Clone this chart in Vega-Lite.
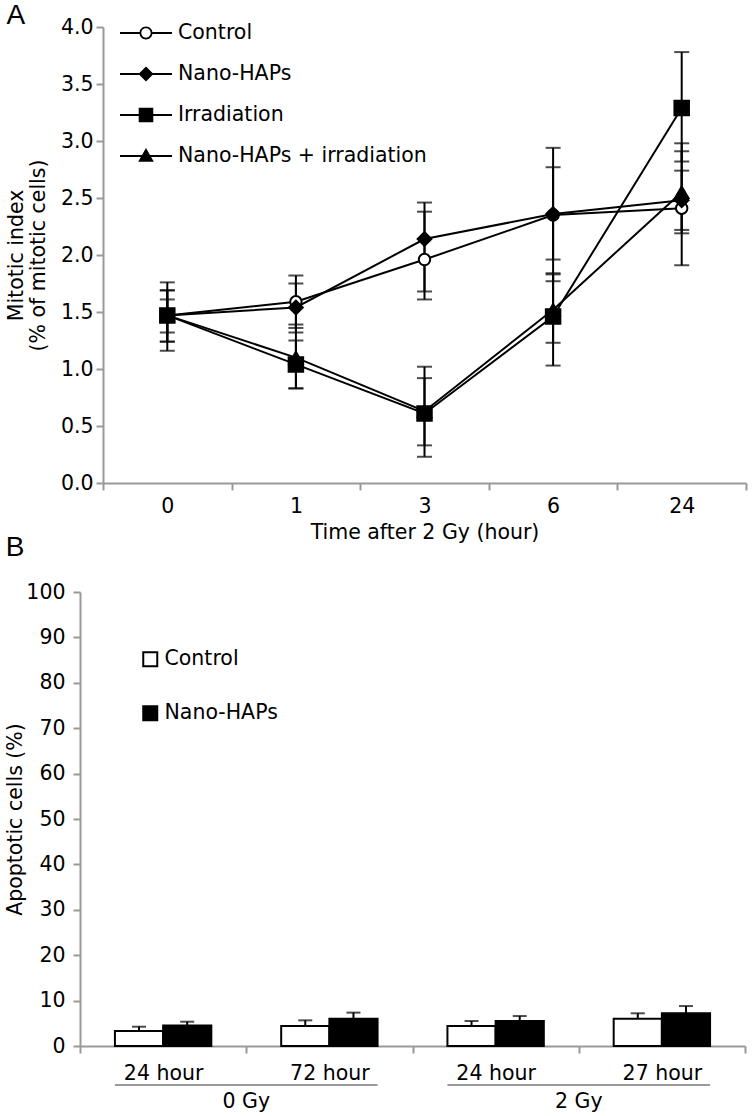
{
  "$schema": "https://vega.github.io/schema/vega-lite/v6.json",
  "background": "white",
  "padding": {"left": 5, "top": 2, "right": 5, "bottom": 0},
  "spacing": -9,
  "datasets": {
    "mitotic": [
      {"time": 0, "series": "Control", "mean": 1.47, "lo": 1.16, "hi": 1.76},
      {"time": 0, "series": "Nano-HAPs", "mean": 1.47, "lo": 1.24, "hi": 1.69},
      {"time": 0, "series": "Nano-HAPs + irradiation", "mean": 1.47, "lo": 1.24, "hi": 1.69},
      {"time": 0, "series": "Irradiation", "mean": 1.47, "lo": 1.32, "hi": 1.61},
      {"time": 1, "series": "Control", "mean": 1.59, "lo": 1.36, "hi": 1.82},
      {"time": 1, "series": "Nano-HAPs", "mean": 1.54, "lo": 1.32, "hi": 1.75},
      {"time": 1, "series": "Nano-HAPs + irradiation", "mean": 1.10, "lo": 0.83, "hi": 1.39},
      {"time": 1, "series": "Irradiation", "mean": 1.04, "lo": 0.83, "hi": 1.25},
      {"time": 3, "series": "Control", "mean": 1.96, "lo": 1.61, "hi": 2.38},
      {"time": 3, "series": "Nano-HAPs", "mean": 2.14, "lo": 1.68, "hi": 2.46},
      {"time": 3, "series": "Nano-HAPs + irradiation", "mean": 0.63, "lo": 0.23, "hi": 1.02},
      {"time": 3, "series": "Irradiation", "mean": 0.61, "lo": 0.33, "hi": 0.92},
      {"time": 6, "series": "Control", "mean": 2.35, "lo": 1.96, "hi": 2.77},
      {"time": 6, "series": "Nano-HAPs", "mean": 2.36, "lo": 1.77, "hi": 2.94},
      {"time": 6, "series": "Nano-HAPs + irradiation", "mean": 1.52, "lo": 1.23, "hi": 1.83},
      {"time": 6, "series": "Irradiation", "mean": 1.46, "lo": 1.03, "hi": 1.84},
      {"time": 24, "series": "Control", "mean": 2.41, "lo": 1.91, "hi": 2.91},
      {"time": 24, "series": "Nano-HAPs", "mean": 2.48, "lo": 2.22, "hi": 2.74},
      {"time": 24, "series": "Nano-HAPs + irradiation", "mean": 2.55, "lo": 2.19, "hi": 2.98},
      {"time": 24, "series": "Irradiation", "mean": 3.29, "lo": 2.82, "hi": 3.78}
    ],
    "apop": [
      {"key": "0 Gy|24 hour", "group": "Control", "value": 3.3, "err": 4.25},
      {"key": "0 Gy|24 hour", "group": "Nano-HAPs", "value": 4.5, "err": 5.35},
      {"key": "0 Gy|72 hour", "group": "Control", "value": 4.4, "err": 5.65},
      {"key": "0 Gy|72 hour", "group": "Nano-HAPs", "value": 6.0, "err": 7.35},
      {"key": "2 Gy|24 hour", "group": "Control", "value": 4.4, "err": 5.5},
      {"key": "2 Gy|24 hour", "group": "Nano-HAPs", "value": 5.5, "err": 6.6},
      {"key": "2 Gy|27 hour", "group": "Control", "value": 6.0, "err": 7.2},
      {"key": "2 Gy|27 hour", "group": "Nano-HAPs", "value": 7.2, "err": 8.8}
    ],
    "groups": [
      {"dose": "0 Gy", "first": "0 Gy|24 hour", "last": "0 Gy|72 hour"},
      {"dose": "2 Gy", "first": "2 Gy|24 hour", "last": "2 Gy|27 hour"}
    ]
  },
  "vconcat": [
    {
      "width": 643,
      "height": 456,
      "title": {"text": "A", "dy": 17},
      "data": {"name": "mitotic"},
      "encoding": {
        "x": {
          "field": "time", "type": "ordinal",
          "scale": {"domain": [0, 1, 3, 6, 24], "paddingInner": 0, "paddingOuter": 0},
          "axis": {"title": "Time after 2 Gy (hour)", "labelAngle": 0, "tickBand": "extent", "labelPadding": 6, "titlePadding": 6}
        }
      },
      "layer": [
        {
          "mark": {"type": "rule", "color": "black", "strokeWidth": 2},
          "encoding": {
            "y": {
              "field": "lo", "type": "quantitative",
              "scale": {"domain": [0, 4], "nice": false, "zero": false},
              "axis": {
                "title": ["Mitotic index", "(% of mitotic cells)"],
                "values": [0, 0.5, 1, 1.5, 2, 2.5, 3, 3.5, 4],
                "format": ".1f", "labelPadding": 3, "titlePadding": 12, "titleLineHeight": 22
              }
            },
            "y2": {"field": "hi"}
          }
        },
        {
          "mark": {"type": "tick", "color": "black", "thickness": 2, "size": 15, "orient": "horizontal"},
          "encoding": {"y": {"field": "lo", "type": "quantitative"}}
        },
        {
          "mark": {"type": "tick", "color": "black", "thickness": 2, "size": 15, "orient": "horizontal"},
          "encoding": {"y": {"field": "hi", "type": "quantitative"}}
        },
        {
          "mark": {"type": "line", "color": "black", "strokeWidth": 2},
          "encoding": {
            "y": {"field": "mean", "type": "quantitative"},
            "detail": {"field": "series", "type": "nominal"}
          }
        },
        {
          "transform": [{"filter": "datum.series === 'Control'"}],
          "mark": {"type": "point", "shape": "circle", "size": 130, "filled": true, "fill": "white", "stroke": "black", "strokeWidth": 2, "opacity": 1},
          "encoding": {"y": {"field": "mean", "type": "quantitative"}}
        },
        {
          "transform": [{"filter": "datum.series === 'Nano-HAPs'"}],
          "mark": {"type": "point", "shape": "diamond", "size": 190, "filled": true, "fill": "black", "stroke": "black", "strokeWidth": 2, "opacity": 1},
          "encoding": {"y": {"field": "mean", "type": "quantitative"}}
        },
        {
          "transform": [{"filter": "datum.series === 'Nano-HAPs + irradiation'"}],
          "mark": {"type": "point", "shape": "triangle-up", "size": 180, "filled": true, "fill": "black", "stroke": "black", "strokeWidth": 2, "opacity": 1},
          "encoding": {"y": {"field": "mean", "type": "quantitative"}}
        },
        {
          "transform": [{"filter": "datum.series === 'Irradiation'"}],
          "mark": {"type": "point", "shape": "square", "size": 210, "filled": true, "fill": "black", "stroke": "black", "strokeWidth": 2, "opacity": 1},
          "encoding": {"y": {"field": "mean", "type": "quantitative"}}
        },
        {
          "data": {"values": []},
          "mark": {"type": "point", "filled": true, "color": "black", "opacity": 1},
          "encoding": {
            "y": {"field": "mean", "type": "quantitative"},
            "shape": {
              "field": "series", "type": "nominal",
              "scale": {
                "domain": ["Control", "Nano-HAPs", "Irradiation", "Nano-HAPs + irradiation"],
                "range": [
                  "M-2,-0.08H-0.5V0.08H-2Z M0.5,-0.08H2V0.08H0.5Z M0.5,0A0.5,0.5,0,1,1,-0.5,0A0.5,0.5,0,1,1,0.5,0Z M0.36,0A0.36,0.36,0,1,0,-0.36,0A0.36,0.36,0,1,0,0.36,0Z",
                  "M-2,-0.08H2V0.08H-2Z M0,-0.58L0.58,0L0,0.58L-0.58,0Z",
                  "M-2,-0.08H2V0.08H-2Z M-0.56,-0.56H0.56V0.56H-0.56Z",
                  "M-2,-0.08H2V0.08H-2Z M0,-0.62L0.6,0.45H-0.6Z"
                ]
              },
              "legend": {
                "title": null, "orient": "none", "legendX": 30, "legendY": -7,
                "symbolSize": 676, "symbolStrokeWidth": 0, "symbolFillColor": "black",
                "labelOffset": 19, "rowPadding": 17, "labelFontSize": 20.5, "labelFont": "DejaVu Sans", "labelColor": "black", "labelLimit": 0, "padding": 0
              }
            }
          }
        }
      ]
    },
    {
      "width": 642,
      "height": 454,
      "title": {"text": "B", "dy": -16},
      "layer": [
        {
          "data": {"name": "apop"},
          "mark": {"type": "bar", "stroke": "black", "strokeWidth": 2},
          "encoding": {
            "x": {
              "field": "key", "type": "nominal",
              "scale": {"domain": ["0 Gy|24 hour", "0 Gy|72 hour", "2 Gy|24 hour", "2 Gy|27 hour"], "range": [-23, 642], "paddingInner": 0, "paddingOuter": 0},
              "axis": {"title": null, "labelAngle": 0, "tickBand": "extent", "labelExpr": "split(datum.value, '|')[1]", "labelPadding": 10}
            },
            "xOffset": {
              "field": "group", "type": "nominal",
              "scale": {"domain": ["Control", "Nano-HAPs"], "paddingInner": 0, "paddingOuter": 0.725}
            },
            "y": {
              "field": "value", "type": "quantitative",
              "scale": {"domain": [0, 100], "nice": false},
              "axis": {"title": "Apoptotic cells (%)", "values": [0, 10, 20, 30, 40, 50, 60, 70, 80, 90, 100], "offset": 23, "labelPadding": 8, "titlePadding": 0}
            },
            "fill": {
              "field": "group", "type": "nominal",
              "scale": {"domain": ["Control", "Nano-HAPs"], "range": ["white", "black"]},
              "legend": {
                "title": null, "orient": "none", "legendX": 37, "legendY": 57,
                "symbolType": "square", "symbolSize": 196, "symbolStrokeWidth": 2, "symbolStrokeColor": "black",
                "labelOffset": 4, "rowPadding": 31, "labelFontSize": 20.5, "labelFont": "DejaVu Sans", "labelColor": "black", "labelLimit": 0, "padding": 0
              }
            }
          }
        },
        {
          "data": {"name": "apop"},
          "mark": {"type": "rule", "color": "black", "strokeWidth": 2},
          "encoding": {
            "x": {"field": "key", "type": "nominal"},
            "xOffset": {"field": "group", "type": "nominal"},
            "y": {"field": "value", "type": "quantitative"},
            "y2": {"field": "err"}
          }
        },
        {
          "data": {"name": "apop"},
          "mark": {"type": "tick", "color": "black", "thickness": 2, "size": 14, "orient": "horizontal"},
          "encoding": {
            "x": {"field": "key", "type": "nominal"},
            "xOffset": {"field": "group", "type": "nominal"},
            "y": {"field": "err", "type": "quantitative"}
          }
        },
        {
          "data": {"name": "groups"},
          "mark": {"type": "rule", "color": "#999999", "strokeWidth": 2},
          "encoding": {
            "x": {"field": "first", "type": "nominal", "bandPosition": 0.21},
            "x2": {"field": "last", "bandPosition": 0.79},
            "y": {"datum": -8.6}
          }
        },
        {
          "data": {"name": "groups"},
          "mark": {"type": "text", "fontSize": 20.5, "font": "DejaVu Sans", "baseline": "middle", "align": "center", "color": "black"},
          "encoding": {
            "x": {"field": "last", "type": "nominal", "bandPosition": 0},
            "y": {"datum": -12.3},
            "text": {"field": "dose"}
          }
        }
      ]
    }
  ],
  "resolve": {"scale": {"fill": "independent", "shape": "independent", "size": "independent"}},
  "config": {
    "font": "DejaVu Sans",
    "view": {"stroke": null},
    "title": {"font": "Liberation Sans", "fontSize": 28, "fontWeight": "normal", "anchor": "start", "frame": "bounds", "color": "black", "offset": 0},
    "axis": {
      "grid": false,
      "domainColor": "#999999", "domainWidth": 2,
      "tickColor": "#999999", "tickWidth": 2, "tickSize": 7,
      "labelFont": "DejaVu Sans", "labelFontSize": 20.5, "labelColor": "black",
      "titleFont": "DejaVu Sans", "titleFontSize": 20.5, "titleFontWeight": "normal", "titleColor": "black"
    }
  }
}
